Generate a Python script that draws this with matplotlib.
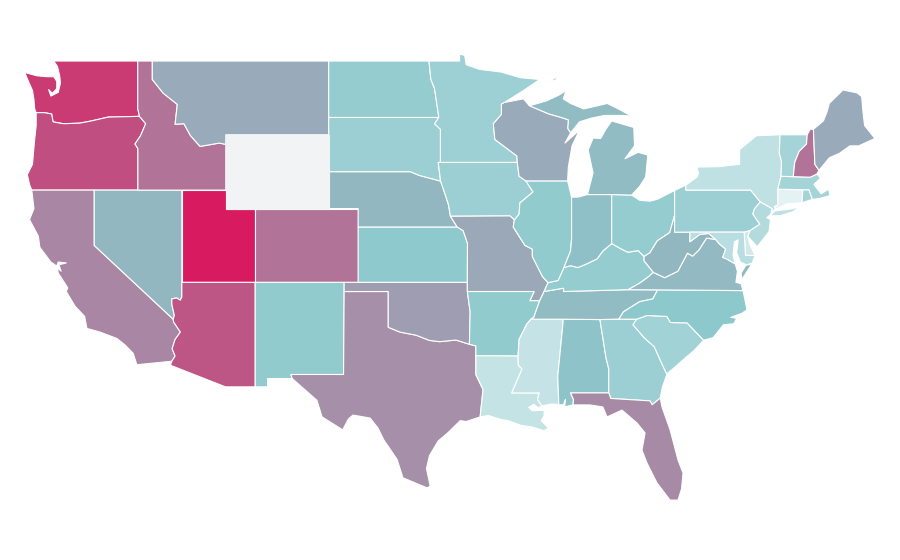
import matplotlib
matplotlib.use("Agg")
import matplotlib.pyplot as plt
from matplotlib.colors import LinearSegmentedColormap, Normalize

states = ["WA","OR","CA","NV","ID","MT","UT","AZ","CO","NM","TX","OK","KS","NE","SD","ND",
          "MN","IA","MO","AR","LA","MS","AL","TN","KY","IL","IN","OH","MI","WI","GA","FL",
          "SC","NC","VA","WV","PA","NY","NJ","DE","MD","CT","RI","MA","VT","NH","ME","WY"]
values = [87,79,57,37,64,42,100,76,64,28.3,53,47.5,29.3,37,25,27.3,
          24.3,25,43,28.3,11.7,11,32,35,27,28.3,33.5,27.3,35,42,25,55,
          23.3,30,36,37,25,12.7,17,6.7,15,0.7,21.7,21.7,21.7,64,42,None]

# State outlines in longitude / latitude, approximate
ID_MT = [(-116.05,49),(-116.05,48.0),(-115.3,47.25),(-114.35,46.65),(-114.5,45.57),(-113.9,45.6),(-113.45,44.95),(-112.8,44.37),(-111.5,44.55),(-111.05,44.48)]
SNAKE = [(-116.92,46.0),(-116.5,45.6),(-116.85,44.95),(-117.23,44.5),(-117.03,44.25),(-117.03,42.0)]
COLUMBIA = [(-123.95,46.2),(-123.4,46.2),(-122.9,46.13),(-122.8,45.7),(-122.1,45.6),(-121.0,45.63),(-120.2,45.75),(-119.05,45.96),(-116.92,46.0)]
COLORADO_R = [(-114.72,32.72),(-114.5,33.0),(-114.7,33.4),(-114.5,33.9),(-114.14,34.3),(-114.6,34.85),(-114.63,35.0)]
RED_R = [(-100,34.56),(-99.2,34.3),(-98.1,34.13),(-97.2,33.85),(-96.5,33.78),(-95.4,33.87),(-94.48,33.64)]
MISS_N = [(-91.22,43.5),(-91.1,42.75),(-90.64,42.5)]
MISS_IL = [(-90.64,42.5),(-90.15,41.9),(-91.05,41.3),(-91.1,40.7),(-91.42,40.38)]
MISS_MO = [(-91.42,40.38),(-91.5,40.0),(-90.7,39.0),(-90.2,38.8),(-90.2,38.4),(-89.5,37.3),(-89.13,36.98)]
MISS_KT = [(-89.13,36.98),(-89.4,36.5),(-89.7,36.0)]
MISS_AR = [(-89.7,36.0),(-90.1,35.1),(-90.3,35.0)]
MISS_MS = [(-90.3,35.0),(-90.6,34.7),(-91.1,33.9),(-91.17,33.0)]
MISS_LA = [(-91.17,33.0),(-91.15,32.5),(-90.9,32.3),(-91.6,31.0)]
MO_RIV = [(-96.44,42.49),(-96.1,41.7),(-95.9,41.2),(-95.77,40.58)]
OHIO_IN = [(-84.8,39.1),(-85.4,38.7),(-85.8,38.27),(-86.5,38.0),(-87.1,37.8),(-87.6,37.9),(-88.05,37.8)]
OHIO_OH = [(-82.6,38.4),(-83.0,38.72),(-83.7,38.63),(-84.25,38.85),(-84.8,39.1)]
OHIO_WV = [(-80.52,40.64),(-80.85,39.7),(-81.7,39.25),(-82.2,38.6),(-82.6,38.4)]
KY_WV = [(-81.97,37.54),(-82.6,38.17),(-82.6,38.4)]
VA_WV = [(-77.72,39.32),(-78.35,39.4),(-78.87,38.75),(-79.3,38.42),(-79.65,38.58),(-80.3,37.6),(-81.2,37.25),(-81.97,37.54)]
KY_VA = [(-81.97,37.54),(-82.3,37.3),(-82.9,36.95),(-83.68,36.6)]
POTOMAC = [(-76.4,38.0),(-76.95,38.25),(-77.25,38.35),(-77.05,38.8),(-77.5,39.1),(-77.72,39.32)]
TN_NC = [(-84.32,35.0),(-84.0,35.4),(-82.9,35.95),(-82.0,36.1),(-81.68,36.59)]
NC_SC = [(-83.1,35.0),(-82.4,35.2),(-81.05,35.15),(-80.8,34.82),(-79.67,34.8),(-78.55,33.86)]
GA_SC = [(-83.1,35.0),(-83.35,34.7),(-82.6,34.0),(-81.9,33.5),(-81.4,32.6),(-81.1,32.1),(-81.03,32.05)]
PA_NJ = [(-74.7,41.36),(-75.1,40.97),(-75.2,40.7),(-74.72,40.15),(-75.4,39.8)]
VT_NH = [(-71.5,45.0),(-71.55,44.5),(-72.05,44.1),(-72.35,43.5),(-72.45,42.73)]
MN_WI = [(-92.1,46.75),(-92.3,46.66),(-92.3,46.1),(-92.85,45.6),(-92.75,44.75),(-91.25,43.85),(-91.22,43.5)]
WI_UP = [(-90.4,46.57),(-89.1,46.13),(-88.1,45.9),(-87.75,45.8),(-87.8,45.35),(-87.6,45.1)]
R = lambda arc: arc[::-1]

outlines = {
 "WA": [[(-122.75,49),(-117.04,49),(-117.04,46.42)] + R(COLUMBIA) + [(-124.05,46.4),(-124.1,46.9),(-124.2,47.4),(-124.45,47.85),(-124.73,48.38),(-123.9,48.2),(-123.2,48.15),(-122.75,48.15),(-122.55,47.9),(-122.55,47.5),(-122.85,47.25),(-123.1,47.45),(-122.95,47.1),(-122.45,47.3),(-122.3,47.8),(-122.35,48.2),(-122.5,48.7)]],
 "OR": [COLUMBIA + SNAKE[1:] + [(-120,42),(-124.25,42),(-124.4,42.3),(-124.55,42.84),(-124.2,43.4),(-124.07,44.6),(-123.95,45.5)]],
 "CA": [[(-124.25,42),(-120,42),(-120,39),(-114.63,35.0)] + R(COLORADO_R) + [(-117.1,32.53),(-117.35,33.15),(-117.9,33.6),(-118.45,33.95),(-119.6,34.3),(-120.5,34.5),(-120.65,35.15),(-121.3,35.7),(-121.9,36.5),(-121.8,36.7),(-122.0,36.95),(-122.45,37.5),(-122.5,37.78),(-122.25,37.6),(-122.4,37.95),(-121.9,38.05),(-122.45,38.1),(-122.55,37.88),(-122.95,38.1),(-123.7,38.9),(-123.8,39.5),(-124.4,40.4),(-124.1,41.0)]],
 "NV": [[(-120,42),(-114.04,42),(-114.04,36.2),(-114.15,36.03),(-114.4,36.15),(-114.72,36.1),(-114.72,35.8),(-114.55,35.2),(-114.63,35.0),(-120,39)]],
 "ID": [[(-117.04,49)] + ID_MT + [(-111.05,42),(-117.03,42)] + R(SNAKE)[1:] + [(-117.04,46.42)]],
 "MT": [ID_MT + [(-111.05,45),(-104.05,45),(-104.05,49)]],
 "UT": [[(-114.04,42),(-111.05,42),(-111.05,41),(-109.05,41),(-109.05,37),(-114.04,37)]],
 "AZ": [[(-114.04,37),(-109.05,37),(-109.05,31.33),(-111.07,31.33),(-114.81,32.5)] + COLORADO_R + [(-114.55,35.2),(-114.72,35.8),(-114.72,36.1),(-114.4,36.15),(-114.15,36.03),(-114.04,36.2)]],
 "CO": [[(-109.05,41),(-102.05,41),(-102.05,37),(-109.05,37)]],
 "NM": [[(-109.05,37),(-103,37),(-103,36.5),(-103.04,32),(-106.62,32),(-106.53,31.78),(-108.21,31.78),(-108.21,31.33),(-109.05,31.33)]],
 "TX": [[(-103,36.5),(-100,36.5)] + RED_R + [(-94.04,33.55),(-94.04,31.99),(-93.55,31.18),(-93.7,30.1),(-93.75,29.7),(-94.7,29.45),(-95.1,29.5),(-96.0,28.8),(-96.6,28.4),(-97.2,27.6),(-97.4,26.9),(-97.15,25.95),(-97.35,25.85),(-99.0,26.4),(-99.4,27.4),(-100.3,28.45),(-100.7,29.1),(-101.24,29.64),(-102.4,29.8),(-102.7,29.6),(-103.1,29.0),(-104.5,29.7),(-104.85,30.6),(-106.53,31.78),(-106.62,32),(-103.04,32)]],
 "OK": [[(-103,37),(-94.62,37),(-94.62,36.5),(-94.43,35.4)] + R(RED_R) + [(-100,36.5),(-103,36.5)]],
 "KS": [[(-102.05,40),(-95.31,40),(-94.9,39.8),(-94.61,39.11),(-94.62,37),(-102.05,37)]],
 "NE": [[(-104.05,43),(-98.5,43),(-97.9,42.8)] + MO_RIV + [(-95.31,40),(-102.05,40),(-102.05,41),(-104.05,41)]],
 "SD": [[(-104.05,45.94),(-96.56,45.94),(-96.85,45.6),(-96.45,45.3),(-96.45,43.5),(-96.6,43.5),(-96.44,42.49),(-97.9,42.8),(-98.5,43),(-104.05,43)]],
 "ND": [[(-104.05,49),(-97.23,49),(-97.1,48),(-96.85,47.5),(-96.56,45.94),(-104.05,45.94)]],
 "MN": [[(-97.23,49),(-95.15,49),(-95.15,49.38),(-94.8,49.3),(-94.7,48.8),(-93.8,48.55),(-92.3,48.4),(-91.05,48.1),(-89.7,48.0),(-90.8,47.4)] + MN_WI + [(-96.45,43.5),(-96.45,45.3),(-96.85,45.6),(-96.56,45.94),(-96.85,47.5),(-97.1,48)]],
 "IA": [[(-96.45,43.5)] + MISS_N + MISS_IL[1:] + [(-91.72,40.6),(-95.77,40.58)] + R(MO_RIV)[1:] + [(-96.6,43.5)]],
 "MO": [[(-95.77,40.58),(-91.72,40.6)] + MISS_MO + MISS_KT[1:] + [(-90.37,36.0),(-90.08,36.5),(-94.62,36.5),(-94.62,37),(-94.61,39.11),(-94.9,39.8),(-95.31,40)]],
 "AR": [[(-94.62,36.5),(-90.08,36.5),(-90.37,36.0)] + MISS_AR + MISS_MS[1:] + [(-94.04,33.02),(-94.04,33.55),(-94.48,33.64),(-94.43,35.4)]],
 "LA": [[(-94.04,33.02)] + MISS_LA + [(-89.73,31.0),(-89.85,30.65),(-89.55,30.3),(-89.8,30.2),(-90.1,30.38),(-90.45,30.22),(-90.2,30.03),(-89.75,30.05),(-89.4,30.05),(-89.4,29.75),(-89.6,29.5),(-89.1,29.1),(-89.4,28.95),(-90.2,29.15),(-91.0,29.25),(-91.85,29.5),(-92.3,29.55),(-93.2,29.78),(-93.75,29.7),(-93.7,30.1),(-93.55,31.18),(-94.04,31.99)]],
 "MS": [MISS_MS + [(-91.15,32.5),(-90.9,32.3),(-91.6,31.0),(-89.73,31.0),(-89.85,30.65),(-89.55,30.3),(-88.9,30.4),(-88.4,30.37),(-88.47,31.9),(-88.1,34.9),(-88.2,35.0)]],
 "AL": [[(-88.2,35.0),(-85.6,34.98),(-85.18,32.87),(-85.0,32.3),(-85.0,31.0),(-87.6,31.0),(-87.4,30.65),(-87.43,30.35),(-88.0,30.25),(-87.95,30.65),(-88.1,30.35),(-88.4,30.37),(-88.47,31.9),(-88.1,34.9)]],
 "TN": [[(-90.3,35.0),(-88.2,35.0),(-85.6,34.98)] + TN_NC + [(-83.68,36.6),(-88.07,36.5),(-88.07,36.68),(-89.4,36.5),(-89.7,36.0),(-90.1,35.1)]],
 "KY": [MISS_KT[:2] + [(-88.07,36.68),(-88.07,36.5),(-83.68,36.6)] + R(KY_VA)[1:] + KY_WV[1:] + OHIO_OH[1:] + OHIO_IN[1:] + [(-88.45,37.1)]],
 "IL": [[(-90.64,42.5),(-87.8,42.5),(-87.53,41.62),(-87.53,39.35),(-87.6,38.7),(-88.05,37.8),(-88.45,37.1)] + R(MISS_MO)[:-1] + R(MISS_IL)[:-1]],
 "IN": [[(-87.53,41.62),(-87.1,41.62),(-86.45,41.76),(-84.8,41.76)] + OHIO_IN + [(-87.6,38.7),(-87.53,39.35)]],
 "OH": [[(-84.8,41.76),(-83.45,41.73),(-82.9,41.45),(-82.2,41.4),(-81.7,41.5),(-80.52,41.98)] + OHIO_WV + OHIO_OH[1:]],
 "MI": [[(-86.45,41.76),(-84.8,41.76),(-83.45,41.73),(-82.9,42.2),(-82.5,42.7),(-82.45,43.0),(-82.35,43.9),(-83.0,44.05),(-83.9,43.7),(-83.25,44.4),(-83.3,45.4),(-84.8,45.75),(-85.2,45.3),(-85.55,44.8),(-86.07,44.82),(-86.4,44.17),(-86.07,42.93)],
        WI_UP + [(-87.0,45.7),(-86.2,45.9),(-85.3,46.05),(-84.0,46.05),(-83.45,46.0),(-84.1,46.3),(-85.1,46.7),(-86.7,46.4),(-87.6,46.7),(-88.1,46.95),(-87.9,47.4),(-88.4,47.15),(-89.2,46.85)],
        [(-89.15,47.85),(-88.5,48.15),(-88.6,47.98)]],
 "WI": [[(-92.1,46.75),(-90.8,46.95)] + WI_UP + [(-87.98,44.55),(-87.0,45.25),(-87.5,44.4),(-87.75,43.25),(-87.8,42.5),(-90.64,42.5),(-91.1,42.75)] + R(MN_WI)[:-1]],
 "GA": [[(-85.6,34.98)] + GA_SC + [(-81.36,31.3),(-81.5,30.72),(-82.05,30.36),(-82.2,30.57),(-84.86,30.7),(-85,31),(-85,32.3),(-85.18,32.87)]],
 "FL": [[(-87.6,31.0),(-85,31),(-84.86,30.7),(-82.2,30.57),(-82.05,30.36),(-81.5,30.72),(-81.38,30.24),(-80.83,29.0),(-80.29,27.36),(-79.95,26.66),(-80.05,25.8),(-80.29,25.19),(-80.83,25.19),(-81.72,26.12),(-82.4,27.2),(-82.74,27.9),(-82.53,28.83),(-83.08,29.37),(-84.1,30.07),(-85.12,29.7),(-85.4,30.24),(-86.27,30.35),(-87.43,30.35),(-87.4,30.65)]],
 "SC": [NC_SC + [(-79.2,33.3),(-79.8,32.9),(-80.5,32.4)] + R(GA_SC)],
 "NC": [TN_NC[:1] + NC_SC + [(-77.9,34.0),(-77.2,34.7),(-76.5,34.75),(-76.3,35.05),(-76.7,35.1),(-76.0,35.3),(-75.6,35.5),(-75.75,36.1),(-75.87,36.55),(-81.68,36.59)] + R(TN_NC)[1:]],
 "VA": [[(-83.68,36.6),(-81.68,36.59),(-75.87,36.55),(-76.0,36.92),(-76.35,37.0),(-76.25,37.6)] + POTOMAC + VA_WV[1:] + KY_VA[1:],
        [(-75.65,37.95),(-75.3,37.95),(-75.95,37.15),(-76.0,37.5)]],
 "WV": [OHIO_WV[:1] + [(-80.52,39.72),(-79.48,39.72),(-79.48,39.2),(-78.8,39.6),(-78.2,39.65)] + VA_WV + KY_WV[1:] + R(OHIO_WV)[1:-1]],
 "PA": [[(-80.52,41.98),(-79.76,42.27),(-79.76,42.0),(-75.35,42.0)] + PA_NJ + [(-75.79,39.72),(-80.52,39.72),(-80.52,40.64)]],
 "NY": [[(-79.76,42.27),(-79.0,42.7),(-78.9,42.9),(-79.0,43.25),(-77.5,43.27),(-76.7,43.35),(-76.1,43.4),(-76.1,44.2),(-74.95,44.95),(-73.35,45.0),(-73.4,44),(-73.25,43.55),(-73.28,42.75),(-73.5,42.05),(-73.49,41.2),(-73.73,41.1),(-73.65,40.98),(-73.9,40.8),(-73.9,41.0),(-74.7,41.36),(-75.35,42.0),(-79.76,42.0)],
        [(-74.0,40.6),(-73.7,40.87),(-72.6,40.98),(-72.0,41.1),(-72.5,40.82),(-73.3,40.62)]],
 "NJ": [[(-73.9,41.0),(-73.97,40.7),(-74.25,40.5),(-74.0,40.4),(-74.1,39.75),(-74.9,38.93),(-75.55,39.5),(-75.4,39.8)] + R(PA_NJ)[1:]],
 "DE": [[(-75.79,39.72),(-75.4,39.8),(-75.55,39.5),(-75.4,39.05),(-75.05,38.45),(-75.7,38.46)]],
 "MD": [[(-79.48,39.72),(-75.79,39.72),(-75.7,38.46),(-75.05,38.45),(-75.25,38.03),(-75.65,37.95),(-76.05,38.1),(-76.3,38.6),(-76.2,39.3),(-76.45,39.2),(-76.55,38.5)] + POTOMAC + [(-78.2,39.65),(-78.8,39.6),(-79.48,39.2)]],
 "CT": [[(-73.5,42.05),(-71.8,42.02),(-71.85,41.32),(-72.9,41.25),(-73.65,40.98),(-73.73,41.1),(-73.49,41.2)]],
 "RI": [[(-71.8,42.02),(-71.38,42.02),(-71.15,41.5),(-71.85,41.32)]],
 "MA": [[(-73.28,42.75),(-72.45,42.73),(-71.3,42.7),(-70.85,42.87),(-70.6,42.65),(-71.05,42.3),(-70.55,41.8),(-70.05,42.05),(-69.95,41.7),(-70.65,41.55),(-71.15,41.5),(-71.38,42.02),(-71.8,42.02),(-73.5,42.05)]],
 "VT": [[(-73.35,45)] + VT_NH + [(-73.28,42.75),(-73.25,43.55),(-73.4,44)]],
 "NH": [[(-71.5,45.0),(-71.3,45.3),(-71.08,45.3),(-70.98,43.4),(-70.7,43.07),(-70.85,42.87),(-71.3,42.7)] + R(VT_NH)[:-1]],
 "ME": [[(-71.08,45.3),(-70.4,45.75),(-70.15,46.25),(-70.0,46.7),(-69.07,47.43),(-68.1,47.27),(-67.8,47.07),(-67.7,46.18),(-67.6,45.5),(-66.9,44.8),(-68.0,44.4),(-68.6,44.4),(-69.3,44.0),(-70.0,43.75),(-70.7,43.07),(-70.98,43.4)]],
 "WY": [[(-111.05,45),(-104.05,45),(-104.05,41),(-111.05,41)]],
}

cmap = LinearSegmentedColormap.from_list("rate", [(0,"#e6f3f5"),(0.30,"#8cc8cc"),(1,"#d81b60")])
norm = Normalize(0, 100)
missing = "#f2f3f5"

fig = plt.figure(figsize=(9, 5.6), dpi=100)
ax = fig.add_axes([0, 0, 1, 1])
for st, val in zip(states, values):
    color = missing if val is None else cmap(norm(val))
    edge = missing if val is None else "white"
    for ring in outlines[st]:
        xs, ys = zip(*ring)
        ax.fill(xs, ys, facecolor=color, edgecolor=edge, linewidth=0.8, joinstyle="round",
                zorder=3 if val is None else 2)
ax.set_xlim(-126.41, -65.19)
ax.set_ylim(21.94, 52.31)
ax.axis("off")
fig.savefig("out.png", dpi=100, facecolor="white")
